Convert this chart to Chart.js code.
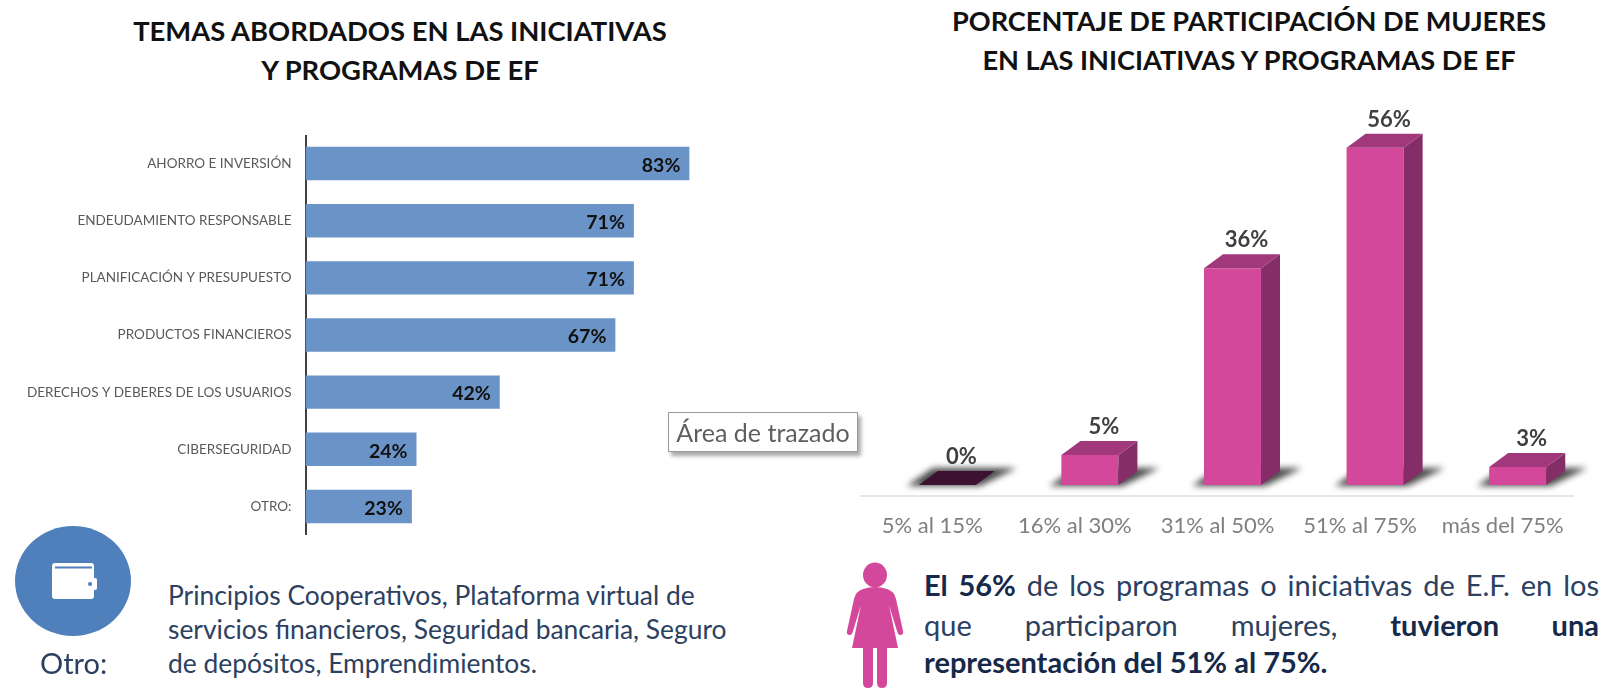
<!DOCTYPE html>
<html lang="es"><head><meta charset="utf-8">
<script src="https://cdn.jsdelivr.net/npm/chart.js@4"></script>
<style>
html,body{margin:0;padding:0;background:#fff;width:1609px;height:689px;overflow:hidden;font-family:Lato,sans-serif}
.abs{position:absolute;white-space:nowrap}
.title{font-weight:700;color:#111;text-align:center;line-height:38.5px}
canvas{position:absolute}
#c1w,#c2w{position:absolute}
.para{font-size:26.4px;color:#2c4060;line-height:34px}
.line{position:absolute;left:924px;width:675px;font-size:29px;color:#2c4060;white-space:normal;text-align:justify;text-align-last:justify}
.line.last{text-align-last:left}
.line b{color:#16294a}
#tip{position:absolute;left:668px;top:412px;width:188px;height:38px;border:1.5px solid #9a9a9a;background:#fff;box-shadow:3px 4px 4px #a8a8a8;font-size:25px;color:#5f5f5f;line-height:38px;text-align:center;white-space:nowrap}
</style></head><body>
<div class="abs title" style="left:100px;width:600px;top:12px;font-size:27.4px">TEMAS ABORDADOS EN LAS INICIATIVAS<br>Y PROGRAMAS DE EF</div>
<div class="abs title" style="left:900px;width:698px;top:2px;font-size:27.15px">PORCENTAJE DE PARTICIPACIÓN DE MUJERES<br>EN LAS INICIATIVAS Y PROGRAMAS DE EF</div>

<div id="c1w" style="left:0;top:135px;width:768px;height:400px"><canvas id="c1"></canvas></div>
<div id="c2w" style="left:840px;top:90px;width:769px;height:455px"><canvas id="c2"></canvas></div>

<div id="tip">Área de trazado</div>

<svg class="abs" style="left:0;top:510px" width="150" height="140">
<ellipse cx="73" cy="71" rx="58" ry="55" fill="#4f80bc"/>
<rect x="52" y="53" width="42" height="36" rx="3" fill="#fff"/>
<rect x="88" y="68" width="9" height="12" rx="2" fill="#fff"/>
<rect x="55" y="56.5" width="37" height="2" fill="#4f80bc"/>
<circle cx="90" cy="74" r="2" fill="#4f80bc"/>
</svg>
<div class="abs" style="left:40px;top:645px;font-size:29px;line-height:36px;color:#2c4060">Otro:</div>
<div class="abs para" style="left:168px;top:578px">Principios Cooperativos, Plataforma virtual de<br>servicios financieros, Seguridad bancaria, Seguro<br>de depósitos, Emprendimientos.</div>

<svg class="abs" style="left:840px;top:555px" width="70" height="134" viewBox="0 0 70 134">
<g fill="#d4489b">
<ellipse cx="35" cy="20" rx="12" ry="12.5"/>
<path d="M23 34 Q35 30 47 34 Q54 36 56 44 L63 76 Q64 80 60 80 Q58 80 57 76 L49 50 L58 93 L12 93 L21 50 L13 76 Q12 80 10 80 Q6 80 7 76 L14 44 Q16 36 23 34Z"/>
<path d="M23 93 H33 V128 Q33 133 28 133 Q23 133 23 128Z"/>
<path d="M37 93 H47 V128 Q47 133 42 133 Q37 133 37 128Z"/>
</g>
</svg>
<div class="line" style="top:567px"><b>El 56%</b> de los programas o iniciativas de E.F. en los</div>
<div class="line" style="top:607px">que participaron mujeres, <b>tuvieron una</b></div>
<div class="line last" style="top:644px"><b>representación del 51% al 75%.</b></div>

<script>
const temas = ['AHORRO E INVERSIÓN','ENDEUDAMIENTO RESPONSABLE','PLANIFICACIÓN Y PRESUPUESTO','PRODUCTOS FINANCIEROS','DERECHOS Y DEBERES DE LOS USUARIOS','CIBERSEGURIDAD','OTRO:'];
const temasValores = [83,71,71,67,42,24,23];
const rangos = ['5% al 15%','16% al 30%','31% al 50%','51% al 75%','más del 75%'];
const participacion = [0,5,36,56,3];

Chart.defaults.animation = false;
Chart.defaults.font.family = 'Lato, sans-serif';

const etiquetasIzq = {
  id:'etiquetasIzq',
  afterDatasetsDraw(ch){
    const c=ch.ctx, m=ch.getDatasetMeta(0);
    c.save();c.font='700 19.5px Lato, sans-serif';c.fillStyle='#111';c.textAlign='right';c.textBaseline='middle';
    m.data.forEach((b,i)=>c.fillText(temasValores[i]+'%',b.x-9,b.y+2));
    c.restore();
  }
};
new Chart(document.getElementById('c1'),{
  type:'bar',
  data:{labels:temas,datasets:[{data:temasValores,backgroundColor:'#6a94c8',borderWidth:0,barPercentage:0.585,categoryPercentage:1}]},
  options:{
    indexAxis:'y',responsive:true,maintainAspectRatio:false,
    layout:{padding:0},
    plugins:{legend:{display:false},tooltip:{enabled:false}},
    scales:{
      x:{display:false,min:0,max:100},
      y:{
        afterFit(s){s.width=305.5;s.paddingTop=0;s.paddingBottom=0;},
        grid:{display:false,drawTicks:false},
        border:{display:true,color:'#404040',width:2},
        ticks:{color:'#595959',padding:14,font:{size:13.5},autoSkip:false}
      }
    }
  },
  plugins:[etiquetasIzq]
});

const prof=19, alto=14;
function cara(c,pts,col){c.beginPath();pts.forEach((p,i)=>i?c.lineTo(p[0],p[1]):c.moveTo(p[0],p[1]));c.closePath();c.fillStyle=col;c.fill();}
const barras3d = {
  id:'barras3d',
  beforeDatasetsDraw(ch){
    const c=ch.ctx, m=ch.getDatasetMeta(0), a=ch.chartArea;
    c.save();
    c.strokeStyle='#e6e6e6';c.lineWidth=2;c.beginPath();c.moveTo(a.left-16,a.bottom);c.lineTo(a.right-15,a.bottom);c.stroke();
    c.filter='blur(3px)';
    m.data.forEach(b=>{
      const l=b.x-b.width/2, r=b.x+b.width/2, y=b.base;
      cara(c,[[l-12,y+1],[r+4,y+1],[r+prof+22,y-17],[l+14,y-17]],'#4a4a4a');
    });
    c.restore();
  },
  afterDatasetsDraw(ch){
    const c=ch.ctx, m=ch.getDatasetMeta(0);
    c.save();
    m.data.forEach((b,i)=>{
      const l=b.x-b.width/2, r=b.x+b.width/2, t=b.y, y=b.base;
      const cero=participacion[i]===0;
      if(!cero) cara(c,[[r,t],[r+prof,t-alto],[r+prof,y-alto],[r,y]],'#852d66');
      cara(c,[[l,t],[l+prof,t-alto],[r+prof,t-alto],[r,t]],cero?'#3d1230':'#a0387b');
      c.font='700 22px Lato, sans-serif';c.fillStyle='#404040';c.textAlign='center';c.textBaseline='middle';
      c.fillText(participacion[i]+'%',b.x+14,t-alto-14);
    });
    c.restore();
  }
};
new Chart(document.getElementById('c2'),{
  type:'bar',
  data:{labels:rangos,datasets:[{data:participacion,backgroundColor:'#d4489b',borderWidth:0,barPercentage:0.4,categoryPercentage:1}]},
  options:{
    responsive:true,maintainAspectRatio:false,
    layout:{padding:{left:36,right:20,top:0,bottom:0}},
    plugins:{legend:{display:false},tooltip:{enabled:false}},
    scales:{
      y:{display:false,min:-1.83,max:65.6},
      x:{
        afterFit(s){s.height=49;},
        grid:{display:false,drawTicks:false},
        border:{display:false},
        ticks:{color:'#7f7f7f',padding:17,labelOffset:-15,maxRotation:0,autoSkip:false,font:{size:22}}
      }
    }
  },
  plugins:[barras3d]
});
</script>
</body></html>
